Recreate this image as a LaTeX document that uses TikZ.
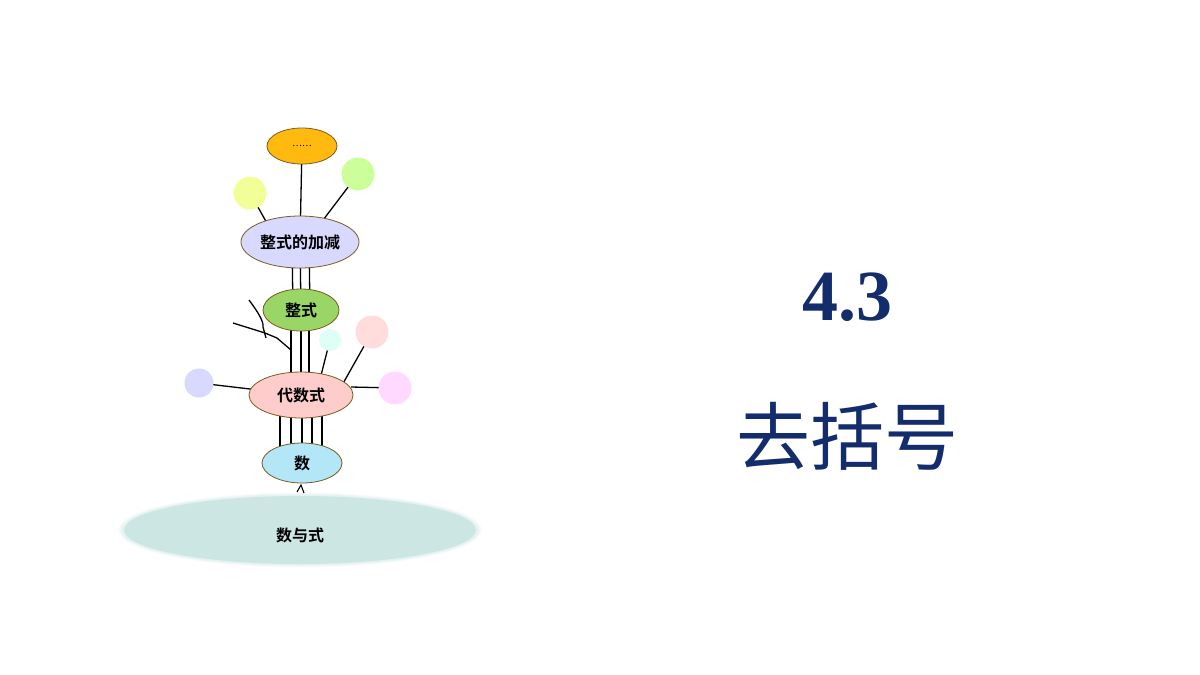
\documentclass[tikz,border=0pt]{standalone}
\usepackage{fontspec}
\setmainfont{Liberation Serif}
\newfontfamily\cjk{Noto Sans CJK SC}
\newfontfamily\cjkb{Noto Sans CJK SC Bold}
\usetikzlibrary{shapes.geometric,calc}
\pgfdeclarelayer{back}
\pgfdeclarelayer{bg}
\pgfsetlayers{back,bg,main}
\definecolor{edge}{HTML}{7A5C1E}
\definecolor{navy}{HTML}{132C6B}
\tikzset{
  oval/.style={ellipse,draw=edge,line width=0.8pt,inner sep=0pt,font=\cjkb\fontsize{16}{16}\selectfont},
  ball/.style={circle,inner sep=0pt,draw=none},
  twig/.style={line width=1.3pt,black},
}
\begin{document}
\begin{tikzpicture}[x=1pt,y=-1pt]
\useasboundingbox (0,0) rectangle (1200,675);
\begin{pgfonlayer}{back}
\fill[white] (0,0) rectangle (1200,675);
\foreach \i/\o in {8/0.08,5/0.15,2/0.25}{
  \fill[fill={rgb,255:red,200;green,228;blue,226},opacity=\o] (300,530) ellipse ({178+\i/2} and {35+\i/3});
}
\end{pgfonlayer}
% base
\node[ellipse,inner sep=0pt,minimum width=352pt,minimum height=68pt,fill={rgb,255:red,204;green,230;blue,228},font=\cjkb\fontsize{16}{16}\selectfont,text height=22pt,text depth=0pt] (base) at (300,530) {数与式};
% main nodes
\node[oval,fill={rgb,255:red,255;green,185;blue,15},minimum width=70pt,minimum height=36pt,font=\cjk\fontsize{9}{9}\selectfont] (dots) at (302,146) {……};
\node[oval,fill={rgb,255:red,217;green,217;blue,255},minimum width=118pt,minimum height=52pt] (jj) at (300,242) {整式的加减};
\node[oval,fill={rgb,255:red,153;green,214;blue,102},minimum width=76pt,minimum height=42pt] (zs) at (301,310) {整式};
\node[oval,fill={rgb,255:red,255;green,204;blue,204},minimum width=104pt,minimum height=46pt] (ds) at (301,395) {代数式};
\node[oval,fill={rgb,255:red,179;green,230;blue,247},minimum width=80pt,minimum height=40pt] (sh) at (302,463) {数};
% balls
\node[ball,fill={rgb,255:red,242;green,255;blue,153},minimum size=33pt] (yb) at (250,193) {};
\node[ball,fill={rgb,255:red,204;green,255;blue,153},minimum size=33pt] (gb) at (358,174) {};
\node[ball,fill={rgb,255:red,221;green,255;blue,245},minimum size=22pt] (cb) at (330,340) {};
\node[ball,fill={rgb,255:red,255;green,221;blue,221},minimum size=33pt] (pb) at (372,332) {};
\node[ball,fill={rgb,255:red,217;green,217;blue,255},minimum size=29pt] (lb) at (199,383) {};
\node[ball,fill={rgb,255:red,255;green,217;blue,255},minimum size=33pt] (mb) at (395,388) {};
\coordinate (tw1) at (249,300);
\coordinate (tw2) at (233,323);
\coordinate (tip) at (301,485);
% connectors
\begin{pgfonlayer}{bg}
\draw[twig] (dots.center) -- (jj.center);
\draw[twig] (yb.center) -- ($(jj.center)+(-28,-10)$);
\draw[twig] (gb.center) -- ($(jj.center)+(14,-10)$);
\foreach \dx in {-8,0,9}{
  \draw[twig] ($(jj.center)+(\dx,0)$) -- ($(zs.center)+(\dx,0)$);
}
\foreach \dx in {-10,0,8}{
  \draw[twig] ($(zs.center)+(\dx,0)$) -- ($(ds.center)+(\dx,0)$);
}
\draw[twig] (tw1) .. controls (258,312) and (264,322) .. (263,327) -- (266,338);
\draw[twig] (tw2) -- (265,333) -- (277,338) -- ($(zs.center)+(-10,40)$);
\draw[twig] (cb.center) -- ($(ds.center)+(15,0)$);
\draw[twig] (pb.center) -- ($(ds.center)+(40,-8)$);
\draw[twig] (lb.center) -- (ds.center);
\draw[twig] (mb.center) -- ($(ds.center)+(50,-8)$);
\foreach \dx in {-21,-10,1,11,21}{
  \draw[twig] ($(ds.center)+(\dx,0)$) -- ($(sh.center)+(\dx-1,0)$);
}
\end{pgfonlayer}
\draw[line width=1.1pt] ($(tip)+(-4,7)$) -- (tip) -- ($(tip)+(3,8)$);
% title
\node[text=navy,font=\bfseries\fontsize{72}{72}\selectfont] (num) at (847,297) {4.3};
\node[text=navy,font=\cjk\fontsize{74}{74}\selectfont] (ttl) at (847,436) {去括号};
\end{tikzpicture}
\end{document}
